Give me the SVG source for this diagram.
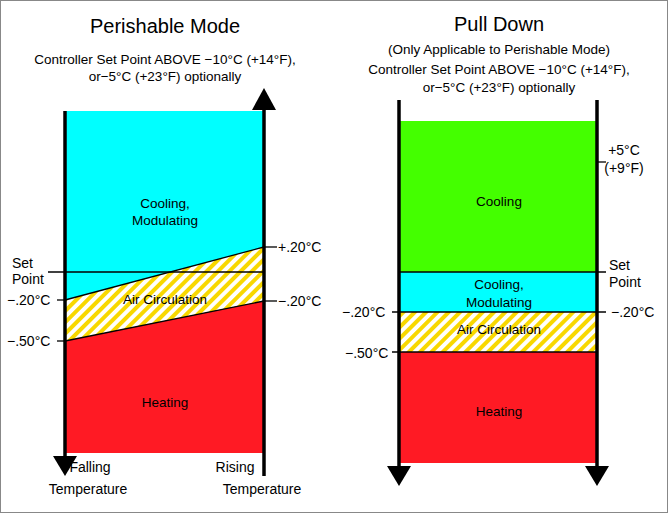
<svg xmlns="http://www.w3.org/2000/svg" width="668" height="513" viewBox="0 0 668 513">
<style>
text{font-family:"Liberation Sans",Arial,sans-serif;fill:#000}
.t{font-size:20px;text-anchor:middle}
.s{font-size:13.5px;text-anchor:middle}
.l{font-size:14px}
.ax{stroke:#000;stroke-width:3.5}
.tk{stroke:#000;stroke-width:1.3}
.bd{stroke:#000;stroke-width:1.3;fill:none}
</style>
<defs>
<pattern id="h" width="8" height="8" patternUnits="userSpaceOnUse" patternTransform="rotate(45)">
<rect width="8" height="8" fill="#fff"/><rect width="4" height="8" fill="#f8d800"/>
</pattern>
</defs>
<rect x="0.5" y="0.5" width="667" height="512" fill="#fff" stroke="#888"/>
<g id="left">
<text class="t" x="165" y="33">Perishable Mode</text>
<text class="s" x="165" y="64">Controller Set Point ABOVE −10°C (+14°F),</text>
<text class="s" x="165" y="81">or−5°C (+23°F) optionally</text>
<rect x="65" y="111" width="199" height="200" fill="#00ffff"/>
<polygon points="65,300 264,247 264,301 65,341" fill="url(#h)"/>
<polygon points="65,341 264,301 264,453 65,453" fill="#ff1a24"/>
<line class="tk" x1="48" y1="272" x2="264" y2="272"/>
<line class="tk" x1="65" y1="300" x2="264" y2="247"/>
<line class="tk" x1="65" y1="341" x2="264" y2="301"/>
<line class="tk" x1="57" y1="300" x2="65" y2="300"/>
<line class="tk" x1="57" y1="341" x2="65" y2="341"/>
<line class="tk" x1="264" y1="247" x2="277" y2="247"/>
<line class="tk" x1="264" y1="301" x2="277" y2="301"/>
<line class="ax" x1="65" y1="111" x2="65" y2="458"/>
<polygon points="53,456 77,456 65,476" fill="#000"/>
<line class="ax" x1="264" y1="106" x2="264" y2="476"/>
<polygon points="252,110 276,110 264,88" fill="#000"/>
<text class="s" x="165" y="208">Cooling,</text>
<text class="s" x="165" y="225">Modulating</text>
<text class="s" x="165" y="304">Air Circulation</text>
<text class="s" x="165" y="407">Heating</text>
<text class="l" x="12" y="268">Set</text>
<text class="l" x="12" y="284">Point</text>
<text class="l" x="7" y="305">−.20°C</text>
<text class="l" x="7" y="346">−.50°C</text>
<text class="l" x="278" y="252">+.20°C</text>
<text class="l" x="278" y="306">−.20°C</text>
<text class="l" x="90" y="472" text-anchor="middle" font-size="16">Falling</text>
<text class="l" x="88" y="494" text-anchor="middle" font-size="16">Temperature</text>
<text class="l" x="235" y="472" text-anchor="middle" font-size="16">Rising</text>
<text class="l" x="262" y="494" text-anchor="middle" font-size="16">Temperature</text>
</g>
<g id="right">
<text class="t" x="499" y="31">Pull Down</text>
<text class="s" x="499" y="54">(Only Applicable to Perishable Mode)</text>
<text class="s" x="499" y="74">Controller Set Point ABOVE −10°C (+14°F),</text>
<text class="s" x="499" y="92">or−5°C (+23°F) optionally</text>
<rect x="399" y="121" width="198" height="151" fill="#44ff00"/>
<rect x="399" y="272" width="198" height="40" fill="#00ffff"/>
<rect x="399" y="312" width="198" height="40" fill="url(#h)"/>
<rect x="399" y="352" width="198" height="111" fill="#ff1a24"/>
<line class="tk" x1="399" y1="272" x2="606" y2="272"/>
<line class="tk" x1="392" y1="312" x2="606" y2="312"/>
<line class="tk" x1="392" y1="352" x2="597" y2="352"/>
<line class="tk" x1="597" y1="162" x2="606" y2="162"/>
<line class="ax" x1="399" y1="100" x2="399" y2="468"/>
<line class="ax" x1="597" y1="100" x2="597" y2="468"/>
<polygon points="387,466 411,466 399,486" fill="#000"/>
<polygon points="585,466 609,466 597,486" fill="#000"/>
<text class="s" x="499" y="206">Cooling</text>
<text class="s" x="499" y="289">Cooling,</text>
<text class="s" x="499" y="307">Modulating</text>
<text class="s" x="499" y="334">Air Circulation</text>
<text class="s" x="499" y="416">Heating</text>
<text class="l" x="624" y="155" text-anchor="middle">+5°C</text>
<text class="l" x="624" y="173" text-anchor="middle">(+9°F)</text>
<text class="l" x="609" y="270">Set</text>
<text class="l" x="609" y="287">Point</text>
<text class="l" x="611" y="317">−.20°C</text>
<text class="l" x="342" y="317">−.20°C</text>
<text class="l" x="345" y="358">−.50°C</text>
</g>
</svg>
